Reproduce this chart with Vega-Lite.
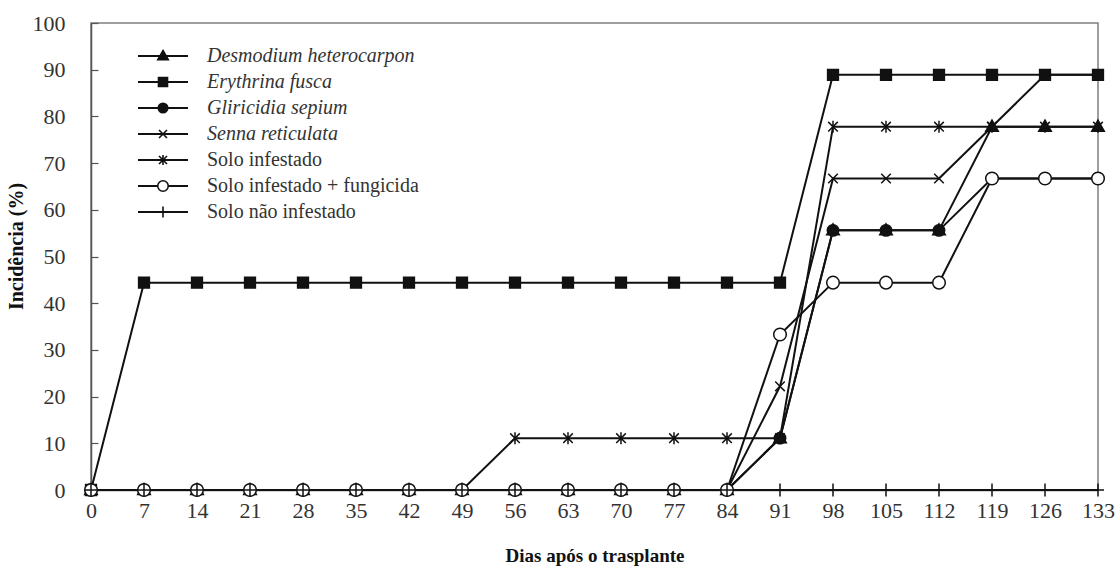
{
  "$schema": "https://vega.github.io/schema/vega-lite/v6.json",
  "width": 1007,
  "height": 467,
  "autosize": "none",
  "padding": {"left": 91, "top": 23, "right": 20, "bottom": 79},
  "background": "white",
  "config": {
    "font": "Liberation Serif",
    "view": {"stroke": "#7f7f7f", "strokeWidth": 1.5},
    "axis": {"grid": false, "domainColor": "#555555", "domainWidth": 1.5, "labelColor": "#333333", "labelFont": "Liberation Serif", "titleFont": "Liberation Serif", "titleColor": "#111111"}
  },
  "data": {"values": [
    {"d":0,"s":"Desmodium heterocarpon","v":0},{"d":7,"s":"Desmodium heterocarpon","v":0},{"d":14,"s":"Desmodium heterocarpon","v":0},{"d":21,"s":"Desmodium heterocarpon","v":0},{"d":28,"s":"Desmodium heterocarpon","v":0},{"d":35,"s":"Desmodium heterocarpon","v":0},{"d":42,"s":"Desmodium heterocarpon","v":0},{"d":49,"s":"Desmodium heterocarpon","v":0},{"d":56,"s":"Desmodium heterocarpon","v":0},{"d":63,"s":"Desmodium heterocarpon","v":0},{"d":70,"s":"Desmodium heterocarpon","v":0},{"d":77,"s":"Desmodium heterocarpon","v":0},{"d":84,"s":"Desmodium heterocarpon","v":0},{"d":91,"s":"Desmodium heterocarpon","v":11.1},{"d":98,"s":"Desmodium heterocarpon","v":55.6},{"d":105,"s":"Desmodium heterocarpon","v":55.6},{"d":112,"s":"Desmodium heterocarpon","v":55.6},{"d":119,"s":"Desmodium heterocarpon","v":77.8},{"d":126,"s":"Desmodium heterocarpon","v":77.8},{"d":133,"s":"Desmodium heterocarpon","v":77.8},
    {"d":0,"s":"Erythrina fusca","v":0},{"d":7,"s":"Erythrina fusca","v":44.4},{"d":14,"s":"Erythrina fusca","v":44.4},{"d":21,"s":"Erythrina fusca","v":44.4},{"d":28,"s":"Erythrina fusca","v":44.4},{"d":35,"s":"Erythrina fusca","v":44.4},{"d":42,"s":"Erythrina fusca","v":44.4},{"d":49,"s":"Erythrina fusca","v":44.4},{"d":56,"s":"Erythrina fusca","v":44.4},{"d":63,"s":"Erythrina fusca","v":44.4},{"d":70,"s":"Erythrina fusca","v":44.4},{"d":77,"s":"Erythrina fusca","v":44.4},{"d":84,"s":"Erythrina fusca","v":44.4},{"d":91,"s":"Erythrina fusca","v":44.4},{"d":98,"s":"Erythrina fusca","v":88.9},{"d":105,"s":"Erythrina fusca","v":88.9},{"d":112,"s":"Erythrina fusca","v":88.9},{"d":119,"s":"Erythrina fusca","v":88.9},{"d":126,"s":"Erythrina fusca","v":88.9},{"d":133,"s":"Erythrina fusca","v":88.9},
    {"d":0,"s":"Gliricidia sepium","v":0},{"d":7,"s":"Gliricidia sepium","v":0},{"d":14,"s":"Gliricidia sepium","v":0},{"d":21,"s":"Gliricidia sepium","v":0},{"d":28,"s":"Gliricidia sepium","v":0},{"d":35,"s":"Gliricidia sepium","v":0},{"d":42,"s":"Gliricidia sepium","v":0},{"d":49,"s":"Gliricidia sepium","v":0},{"d":56,"s":"Gliricidia sepium","v":0},{"d":63,"s":"Gliricidia sepium","v":0},{"d":70,"s":"Gliricidia sepium","v":0},{"d":77,"s":"Gliricidia sepium","v":0},{"d":84,"s":"Gliricidia sepium","v":0},{"d":91,"s":"Gliricidia sepium","v":11.1},{"d":98,"s":"Gliricidia sepium","v":55.6},{"d":105,"s":"Gliricidia sepium","v":55.6},{"d":112,"s":"Gliricidia sepium","v":55.6},{"d":119,"s":"Gliricidia sepium","v":66.7},{"d":126,"s":"Gliricidia sepium","v":66.7},{"d":133,"s":"Gliricidia sepium","v":66.7},
    {"d":0,"s":"Senna reticulata","v":0},{"d":7,"s":"Senna reticulata","v":0},{"d":14,"s":"Senna reticulata","v":0},{"d":21,"s":"Senna reticulata","v":0},{"d":28,"s":"Senna reticulata","v":0},{"d":35,"s":"Senna reticulata","v":0},{"d":42,"s":"Senna reticulata","v":0},{"d":49,"s":"Senna reticulata","v":0},{"d":56,"s":"Senna reticulata","v":0},{"d":63,"s":"Senna reticulata","v":0},{"d":70,"s":"Senna reticulata","v":0},{"d":77,"s":"Senna reticulata","v":0},{"d":84,"s":"Senna reticulata","v":0},{"d":91,"s":"Senna reticulata","v":22.2},{"d":98,"s":"Senna reticulata","v":66.7},{"d":105,"s":"Senna reticulata","v":66.7},{"d":112,"s":"Senna reticulata","v":66.7},{"d":119,"s":"Senna reticulata","v":77.8},{"d":126,"s":"Senna reticulata","v":88.9},{"d":133,"s":"Senna reticulata","v":88.9},
    {"d":0,"s":"Solo infestado","v":0},{"d":7,"s":"Solo infestado","v":0},{"d":14,"s":"Solo infestado","v":0},{"d":21,"s":"Solo infestado","v":0},{"d":28,"s":"Solo infestado","v":0},{"d":35,"s":"Solo infestado","v":0},{"d":42,"s":"Solo infestado","v":0},{"d":49,"s":"Solo infestado","v":0},{"d":56,"s":"Solo infestado","v":11.1},{"d":63,"s":"Solo infestado","v":11.1},{"d":70,"s":"Solo infestado","v":11.1},{"d":77,"s":"Solo infestado","v":11.1},{"d":84,"s":"Solo infestado","v":11.1},{"d":91,"s":"Solo infestado","v":11.1},{"d":98,"s":"Solo infestado","v":77.8},{"d":105,"s":"Solo infestado","v":77.8},{"d":112,"s":"Solo infestado","v":77.8},{"d":119,"s":"Solo infestado","v":77.8},{"d":126,"s":"Solo infestado","v":77.8},{"d":133,"s":"Solo infestado","v":77.8},
    {"d":0,"s":"Solo infestado + fungicida","v":0},{"d":7,"s":"Solo infestado + fungicida","v":0},{"d":14,"s":"Solo infestado + fungicida","v":0},{"d":21,"s":"Solo infestado + fungicida","v":0},{"d":28,"s":"Solo infestado + fungicida","v":0},{"d":35,"s":"Solo infestado + fungicida","v":0},{"d":42,"s":"Solo infestado + fungicida","v":0},{"d":49,"s":"Solo infestado + fungicida","v":0},{"d":56,"s":"Solo infestado + fungicida","v":0},{"d":63,"s":"Solo infestado + fungicida","v":0},{"d":70,"s":"Solo infestado + fungicida","v":0},{"d":77,"s":"Solo infestado + fungicida","v":0},{"d":84,"s":"Solo infestado + fungicida","v":0},{"d":91,"s":"Solo infestado + fungicida","v":33.3},{"d":98,"s":"Solo infestado + fungicida","v":44.4},{"d":105,"s":"Solo infestado + fungicida","v":44.4},{"d":112,"s":"Solo infestado + fungicida","v":44.4},{"d":119,"s":"Solo infestado + fungicida","v":66.7},{"d":126,"s":"Solo infestado + fungicida","v":66.7},{"d":133,"s":"Solo infestado + fungicida","v":66.7},
    {"d":0,"s":"Solo não infestado","v":0},{"d":7,"s":"Solo não infestado","v":0},{"d":14,"s":"Solo não infestado","v":0},{"d":21,"s":"Solo não infestado","v":0},{"d":28,"s":"Solo não infestado","v":0},{"d":35,"s":"Solo não infestado","v":0},{"d":42,"s":"Solo não infestado","v":0},{"d":49,"s":"Solo não infestado","v":0},{"d":56,"s":"Solo não infestado","v":0},{"d":63,"s":"Solo não infestado","v":0},{"d":70,"s":"Solo não infestado","v":0},{"d":77,"s":"Solo não infestado","v":0},{"d":84,"s":"Solo não infestado","v":0},{"d":91,"s":"Solo não infestado","v":0},{"d":98,"s":"Solo não infestado","v":0},{"d":105,"s":"Solo não infestado","v":0},{"d":112,"s":"Solo não infestado","v":0},{"d":119,"s":"Solo não infestado","v":0},{"d":126,"s":"Solo não infestado","v":0},{"d":133,"s":"Solo não infestado","v":0}
  ]},
  "encoding": {
    "x": {"field": "d", "type": "quantitative", "scale": {"domain": [0, 133], "nice": false, "zero": false},
      "axis": {"values": [0,7,14,21,28,35,42,49,56,63,70,77,84,91,98,105,112,119,126,133], "ticks": false, "labelFontSize": 22, "labelPadding": 10, "labelFlush": false, "title": "Dias após o trasplante", "titleFontSize": 19, "titleFontWeight": "bold", "titlePadding": 25}},
    "y": {"field": "v", "type": "quantitative", "scale": {"domain": [0, 100], "nice": false},
      "axis": {"values": [0,10,20,30,40,50,60,70,80,90,100], "tickSize": -7, "tickColor": "#555555", "tickWidth": 1.2, "labelFontSize": 22, "labelPadding": 33, "labelFlush": false, "title": "Incidência (%)", "titleFontSize": 20, "titleFontWeight": "bold", "titlePadding": 6, "titleY": 223}}
  },
  "layer": [
    {
      "mark": {"type": "line", "strokeWidth": 2},
      "encoding": {
        "detail": {"field": "s"},
        "color": {"field": "s", "type": "nominal",
          "scale": {"range": ["#111111","#111111","#111111","#111111","#111111","#111111","#111111"]},
          "legend": {"title": null, "orient": "none", "legendX": 62, "legendY": 23, "padding": 0, "zindex": 0,
            "symbolType": "M-5,0H5", "symbolSize": 100, "symbolStrokeWidth": 1.8, "symbolStrokeColor": "#111111",
            "labelFontSize": 20, "labelFont": "Liberation Serif", "labelOffset": 34, "rowPadding": 6, "labelLimit": 400, "labelExpr": "''"}}
      }
    },
    {
      "mark": {"type": "point", "filled": true, "stroke": "#111111", "strokeWidth": 1.5, "size": 144, "opacity": 1},
      "encoding": {
        "fill": {"field": "s", "type": "nominal", "legend": null,
          "scale": {"domain": ["Desmodium heterocarpon","Erythrina fusca","Gliricidia sepium","Senna reticulata","Solo infestado","Solo infestado + fungicida","Solo não infestado"],
                    "range": ["#111111","#111111","#111111","#111111","#111111","#ffffff","#111111"]}},
        "shape": {"field": "s", "type": "nominal",
          "scale": {"domain": ["Desmodium heterocarpon","Erythrina fusca","Gliricidia sepium","Senna reticulata","Solo infestado","Solo infestado + fungicida","Solo não infestado"],
                    "range": ["M0,-1.1L1.05,0.75L-1.05,0.75Z","M-0.9,-0.9H0.9V0.9H-0.9Z","M0.95,0A0.95,0.95 0 1,1 -0.95,0A0.95,0.95 0 1,1 0.95,0Z","M-0.8,-0.8L0.8,0.8M-0.8,0.8L0.8,-0.8","M-0.8,-0.8L0.8,0.8M-0.8,0.8L0.8,-0.8M0,-1L0,1","M1.05,0A1.05,1.05 0 1,1 -1.05,0A1.05,1.05 0 1,1 1.05,0Z","M0,-1.1L0,1.1M-1,0L1,0"]},
          "legend": {
            "title": null, "orient": "none", "legendX": 62, "legendY": 23, "padding": 0, "zindex": 1,
            "symbolSize": 100, "labelFontSize": 20, "labelColor": "#333333", "labelFont": "Liberation Serif",
            "labelOffset": 34, "rowPadding": 6, "labelLimit": 400,
            "encoding": {
              "symbols": {
                "fill": {"condition": {"test": "datum.value === 'Solo infestado + fungicida'", "value": "#ffffff"}, "value": "#111111"},
                "stroke": {"value": "#111111"},
                "strokeWidth": {"value": 1.6},
                "opacity": {"value": 1}
              },
              "labels": {
                "fontStyle": {"condition": {"test": "indexof(datum.value, 'Solo') !== 0", "value": "italic"}, "value": "normal"}
              }
            }
          }
        }
      }
    }
  ]
}
